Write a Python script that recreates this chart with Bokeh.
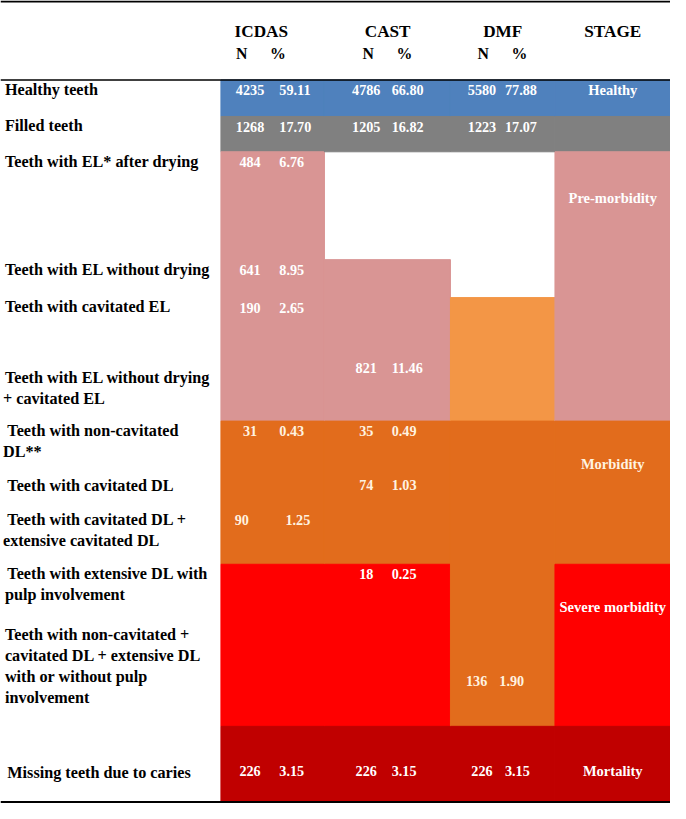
from bokeh.plotting import figure
from bokeh.models import ColumnDataSource, Range1d
from bokeh.core.properties import value
from bokeh.embed import file_html
from bokeh.resources import INLINE

# ---------------- data ----------------
row_labels = [
    "Healthy teeth",
    "Filled teeth",
    "Teeth with EL* after drying",
    "Teeth with EL without drying",
    "Teeth with cavitated EL",
    "Teeth with EL without drying\n+ cavitated EL",
    "Teeth with non-cavitated\nDL**",
    "Teeth with cavitated DL",
    "Teeth with cavitated DL +\nextensive cavitated DL",
    "Teeth with extensive DL with\npulp involvement",
    "Teeth with non-cavitated +\ncavitated DL + extensive DL\nwith or without pulp\ninvolvement",
    "Missing teeth due to caries",
]
methods = ["ICDAS", "CAST", "DMF"]
stage_header = "STAGE"
sub_headers = ["N", "%"]

icdas_rows = [0, 1, 2, 3, 4, 6, 8, 11]
icdas_n = [4235, 1268, 484, 641, 190, 31, 90, 226]
icdas_pct = [59.11, 17.70, 6.76, 8.95, 2.65, 0.43, 1.25, 3.15]

cast_rows = [0, 1, 5, 6, 7, 9, 11]
cast_n = [4786, 1205, 821, 35, 74, 18, 226]
cast_pct = [66.80, 16.82, 11.46, 0.49, 1.03, 0.25, 3.15]

dmf_rows = [0, 1, 10, 11]
dmf_n = [5580, 1223, 136, 226]
dmf_pct = [77.88, 17.07, 1.90, 3.15]

stages = ["Healthy", "Pre-morbidity", "Morbidity", "Severe morbidity", "Mortality"]

# cell groups per column: (first row, last row, category)
icdas_spans = [(0, 0, "healthy"), (1, 1, "filled"), (2, 5, "pre"), (6, 8, "morb"), (9, 10, "severe"), (11, 11, "mort")]
cast_spans = [(0, 0, "healthy"), (1, 1, "filled"), (3, 5, "pre"), (6, 8, "morb"), (9, 10, "severe"), (11, 11, "mort")]
dmf_spans = [(0, 0, "healthy"), (1, 1, "filled"), (4, 5, "cavel"), (6, 10, "morb"), (11, 11, "mort")]
stage_spans = [(0, 0, "healthy"), (1, 1, "filled"), (2, 5, "pre"), (6, 8, "morb"), (9, 10, "severe"), (11, 11, "mort")]
stage_label_rows = [0, 2, 6, 9, 11]

# ---------------- layout / style ----------------
W_REF, H_REF = 686, 819
row_edges = [81, 118.3, 154.3, 264.3, 303, 365, 429, 483.5, 520, 575, 636, 740.3, 818]
col_edges = [0, 225.7, 331.7, 460.7, 567.7, 686]
colors = {
    "healthy": "#4F81BD",
    "filled": "#808080",
    "pre": "#D99594",
    "cavel": "#F39646",
    "morb": "#E26C1C",
    "severe": "#FF0000",
    "mort": "#C00000",
}
text_on = {
    "healthy": "#FFFFFF", "filled": "#FFFFFF", "pre": "#FFFFFF", "cavel": "#FFF3E0",
    "morb": "#FFF3E0", "severe": "#FFFFFF", "mort": "#FFFFFF",
}
label_pad = [10.7, 10, 10.7, 10.7, 9.7, 20, 10.3, 11.5, 10, 10, 10.7, 48]
label_x0 = [4.5, 4.5, 4.5, 4.5, 4.5, 4.5, 7, 7, 7, 7, 4.5, 7]
label_xc = [4.5, 4.5, 4.5, 4.5, 4.5, 2.5, 2.5, 4.5, 2.5, 4.5, 4.5, 4.5]
line_step = 21.4
value_pad = [10.3] * 11 + [45.7]
n_offset = [-23.2, -21.7, -21.2]      # centre of N relative to column centre
p_offset = [6.8, 4.3, 2.3]            # left of % relative to column centre
overrides = {(0, 8): (-31.7, 13.0), (2, 10): (-26.7, -3.5)}
dmf_pad_override = {10: 57.7}
stage_pad = [10, 46.7, 44, 43.3, 45.7]
header_center = [267.0, 396.4, 514.2]
rules_y = [1, 81, 817.5]
rules_w = [2, 1.5, 2]

S = 670 / 686.0
FONT = value("Liberation Serif")


def px(v):
    return f"{v * S:.1f}px"


p = figure(width=670, height=803, output_backend="svg", toolbar_location=None,
           x_range=Range1d(0, W_REF), y_range=Range1d(H_REF, 0),
           min_border=0, background_fill_color="white", border_fill_color="white")
p.axis.visible = False
p.grid.visible = False
p.outline_line_color = None

# ---- coloured cells ----
all_spans = [icdas_spans, cast_spans, dmf_spans, stage_spans]
q = dict(left=[], right=[], top=[], bottom=[], color=[])
for ci, spans in enumerate(all_spans):
    for a, b, cat in spans:
        q["left"].append(col_edges[ci + 1])
        q["right"].append(col_edges[ci + 2])
        q["top"].append(row_edges[a])
        q["bottom"].append(row_edges[b + 1])
        q["color"].append(colors[cat])
p.quad(left="left", right="right", top="top", bottom="bottom", source=ColumnDataSource(q),
       fill_color="color", line_color="color", line_width=1)

# ---- horizontal rules ----
p.segment(x0=[0] * len(rules_y), x1=[W_REF] * len(rules_y), y0=rules_y, y1=rules_y,
          line_color="black", line_width=rules_w)

# ---- row labels ----
lab = dict(x=[], y=[], text=[])
for i, t in enumerate(row_labels):
    for k, line in enumerate(t.split("\n")):
        lab["x"].append(label_x0[i] if k == 0 else label_xc[i])
        lab["y"].append(row_edges[i] + label_pad[i] + k * line_step)
        lab["text"].append(line)
p.text(x="x", y="y", text="text", source=ColumnDataSource(lab), text_font=FONT,
       text_font_style="bold", text_font_size=px(16.6), text_color="black",
       text_align="left", text_baseline="middle")

# ---- header ----
hd = dict(x=header_center + [(col_edges[4] + col_edges[5]) / 2], y=[32] * 4, text=methods + [stage_header])
p.text(x="x", y="y", text="text", source=ColumnDataSource(hd), text_font=FONT,
       text_font_style="bold", text_font_size=px(17.6), text_color="black",
       text_align="center", text_baseline="middle")
sh = dict(x=[], y=[], text=[])
for c in header_center:
    sh["x"] += [c - 25.8, c + 9.0]
    sh["y"] += [54, 54]
    sh["text"] += sub_headers
p.text(x="x", y="y", text="text", source=ColumnDataSource(sh), text_font=FONT,
       text_font_style="bold", text_font_size=px(16.2), text_color="black",
       text_align="left", text_baseline="middle")

# ---- values ----
def cat_of(spans, r):
    for a, b, cat in spans:
        if a <= r <= b:
            return cat
    return "pre"

nv = dict(x=[], y=[], text=[], color=[])
pv = dict(x=[], y=[], text=[], color=[])
for mi, (rows, ns, ps) in enumerate([(icdas_rows, icdas_n, icdas_pct),
                                     (cast_rows, cast_n, cast_pct),
                                     (dmf_rows, dmf_n, dmf_pct)]):
    cc = (col_edges[mi + 1] + col_edges[mi + 2]) / 2
    for r, n, pc in zip(rows, ns, ps):
        no, po = overrides.get((mi, r), (n_offset[mi], p_offset[mi]))
        pad = value_pad[r]
        if mi == 2 and r in dmf_pad_override:
            pad = dmf_pad_override[r]
        y = row_edges[r] + pad
        col = text_on[cat_of(all_spans[mi], r)]
        nv["x"].append(cc + no); nv["y"].append(y); nv["text"].append(str(n)); nv["color"].append(col)
        pv["x"].append(cc + po); pv["y"].append(y); pv["text"].append(f"{pc:.2f}"); pv["color"].append(col)
p.text(x="x", y="y", text="text", source=ColumnDataSource(nv), text_font=FONT,
       text_font_style="bold", text_font_size=px(14.5), text_color="color",
       text_align="center", text_baseline="middle")
p.text(x="x", y="y", text="text", source=ColumnDataSource(pv), text_font=FONT,
       text_font_style="bold", text_font_size=px(14.5), text_color="color",
       text_align="left", text_baseline="middle")

# ---- stage labels ----
sc = (col_edges[4] + col_edges[5]) / 2
st = dict(x=[], y=[], text=[], color=[])
for k, (name, r) in enumerate(zip(stages, stage_label_rows)):
    st["x"].append(sc)
    st["y"].append(row_edges[r] + stage_pad[k])
    st["text"].append(name)
    st["color"].append(text_on[cat_of(stage_spans, r)])
p.text(x="x", y="y", text="text", source=ColumnDataSource(st), text_font=FONT,
       text_font_style="bold", text_font_size=px(14.8), text_color="color",
       text_align="center", text_baseline="middle")

open("out.html", "w").write(file_html(p, INLINE))
